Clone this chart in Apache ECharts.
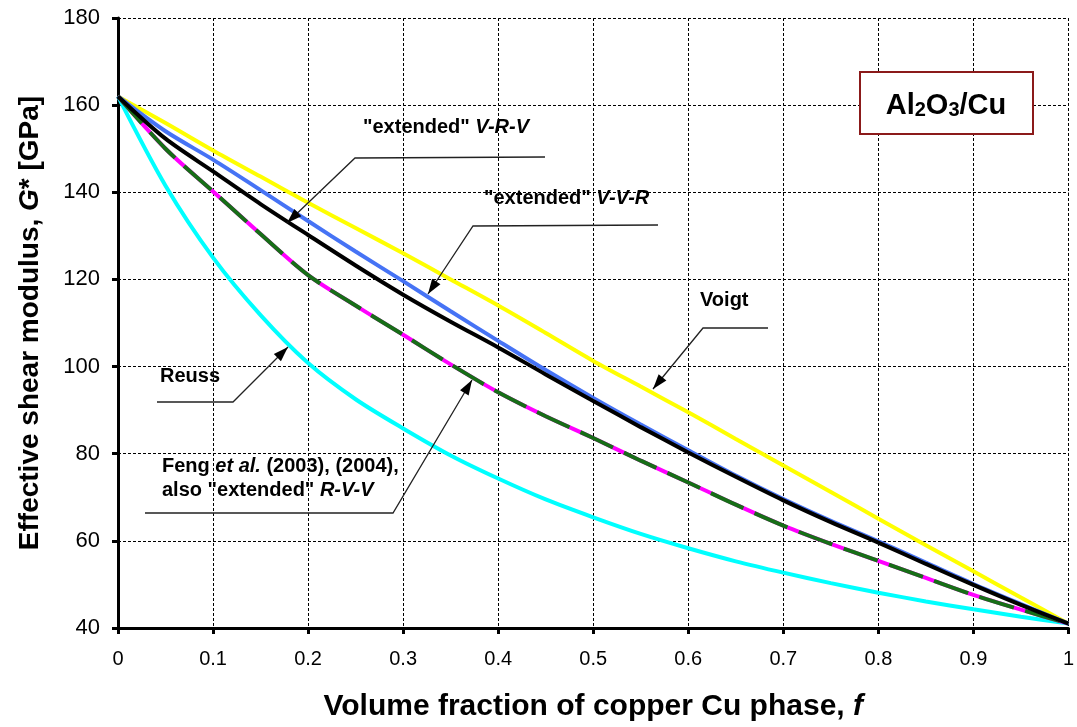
<!DOCTYPE html>
<html><head><meta charset="utf-8">
<script src="https://cdn.jsdelivr.net/npm/echarts@6/dist/echarts.min.js"></script>
<style>html,body{margin:0;padding:0;background:#fff}#c{width:1077px;height:727px}</style>
</head><body><div id="c"></div>
<script>
// Volume fraction of Cu, f
const fVals = [0, 0.05, 0.1, 0.15, 0.2, 0.25, 0.3, 0.35, 0.4, 0.45, 0.5, 0.55, 0.6, 0.65, 0.7, 0.75, 0.8, 0.85, 0.9, 0.95, 1];
// Effective shear modulus G* [GPa]
const voigt   = [162, 155.9, 149.6, 143.6, 137.6, 131.8, 126, 120, 114, 107.7, 101.3, 95.4, 89.5, 83.4, 77.3, 71.2, 65.1, 59, 53, 47, 41];
const extVRV  = [162, 152.3, 144.8, 137.3, 130.2, 123.2, 116.5, 110.3, 104.4, 98.2, 92.1, 86.1, 80.3, 74.7, 69.3, 64.3, 59.6, 54.7, 49.9, 45.3, 41];
const extVVR  = [162, 154, 147.5, 140.5, 133.4, 126.4, 119.6, 112.7, 105.9, 99.2, 92.8, 86.7, 80.8, 75, 69.6, 64.6, 59.9, 55, 50.1, 45.5, 41];
const fengRVV = [162, 150, 140.2, 130.4, 121, 114, 107.3, 100.5, 94.1, 88.6, 83.6, 78.4, 73.4, 68.3, 63.5, 59.3, 55.4, 51.5, 47.6, 44.2, 41];
const reuss   = [162, 141.5, 125, 111.8, 100.8, 92.5, 85.8, 79.6, 74.3, 69.5, 65.4, 61.6, 58.3, 55.3, 52.7, 50.3, 48.1, 46.1, 44.3, 42.6, 41];
const yTicks = [40, 60, 80, 100, 120, 140, 160, 180];
const xTicks = [0, 0.1, 0.2, 0.3, 0.4, 0.5, 0.6, 0.7, 0.8, 0.9, 1];

const pairs = arr => fVals.map((f, i) => [f, arr[i]]);
const FONT = '"Liberation Sans", Arial, sans-serif';

const chart = echarts.init(document.getElementById('c'), null, {renderer: 'canvas'});

function lineSeries(name, data, color, extra) {
  return Object.assign({
    name, type: 'line', data: pairs(data), showSymbol: false, smooth: 0.3,
    lineStyle: {color, width: 4}, animation: false
  }, extra || {});
}

// annotation leaders: polyline points, last point = arrow tip
const leaders = [
  [[545, 157], [355, 158], [287, 223]],
  [[658, 225], [473, 226], [428, 294]],
  [[768, 328], [703, 328], [653, 389]],
  [[157, 402], [233, 402], [288, 347]],
  [[145, 513], [393, 513], [472, 380]]
];
const graphics = [];
leaders.forEach(pts => {
  graphics.push({type: 'polyline', shape: {points: pts}, style: {stroke: '#222', lineWidth: 1.3, fill: null}, z: 50});
  const [x1, y1] = pts[pts.length - 2], [x2, y2] = pts[pts.length - 1];
  const dx = x2 - x1, dy = y2 - y1, L = Math.hypot(dx, dy), ux = dx / L, uy = dy / L;
  const hl = 15, hw = 5;
  const bx = x2 - ux * hl, by = y2 - uy * hl;
  graphics.push({type: 'polygon', shape: {points: [[x2, y2], [bx - uy * hw, by + ux * hw], [bx + uy * hw, by - ux * hw]]}, style: {fill: '#000'}, z: 51});
});
const AF = 20;
const annStyle = {fontFamily: FONT, fontWeight: 'bold', fontSize: AF, fill: '#000'};
const rich = {
  n: {fontFamily: FONT, fontWeight: 'bold', fontSize: AF, color: '#000', lineHeight: 24},
  i: {fontFamily: FONT, fontWeight: 'bold', fontStyle: 'italic', fontSize: AF, color: '#000', lineHeight: 24}
};
graphics.push({type: 'text', left: 363, top: 117, z: 52, style: Object.assign({}, annStyle, {text: '{n|"extended" }{i|V-R-V}', rich})});
graphics.push({type: 'text', left: 484, top: 188, z: 52, style: Object.assign({}, annStyle, {text: '{n|"extended" }{i|V-V-R}', rich})});
graphics.push({type: 'text', left: 700, top: 290, z: 52, style: Object.assign({}, annStyle, {text: 'Voigt'})});
graphics.push({type: 'text', left: 160, top: 366, z: 52, style: Object.assign({}, annStyle, {text: 'Reuss'})});
graphics.push({type: 'text', left: 162, top: 456, z: 52, style: Object.assign({}, annStyle, {text: '{n|Feng }{i|et al.}{n| (2003), (2004),}\n{n|also "extended" }{i|R-V-V}', rich})});
// Material box
graphics.push({type: 'rect', shape: {x: 860, y: 72, width: 173, height: 62}, style: {fill: '#fff', stroke: '#8B1A1A', lineWidth: 2}, z: 40});
graphics.push({type: 'text', x: 946, y: 103, z: 41, style: {
  text: '{m|Al}{s|2}{m|O}{s|3}{m|/Cu}', textAlign: 'center', textVerticalAlign: 'middle',
  rich: {m: {fontFamily: FONT, fontWeight: 'bold', fontSize: 29, color: '#000', verticalAlign: 'bottom'},
         s: {fontFamily: FONT, fontWeight: 'bold', fontSize: 20, color: '#000', padding: [14, 0, 0, 0]}}
}});

chart.setOption({
  animation: false,
  backgroundColor: '#fff',
  grid: {left: 118, right: 6, top: 18, bottom: 96, containLabel: false},
  xAxis: {
    type: 'value', min: 0, max: 1, interval: 0.1,
    name: '{b|Volume fraction of copper Cu phase, }{bi|f}', nameLocation: 'middle', nameGap: 64,
    nameTextStyle: {rich: {
      b: {fontFamily: FONT, fontWeight: 'bold', fontSize: 30, color: '#000'},
      bi: {fontFamily: FONT, fontWeight: 'bold', fontStyle: 'italic', fontSize: 30, color: '#000'}}},
    axisLine: {lineStyle: {color: '#000', width: 3}},
    axisTick: {inside: false, length: 6, lineStyle: {color: '#000', width: 3}},
    axisLabel: {fontFamily: FONT, fontSize: 20, color: '#000', margin: 21,
      formatter: v => { const t = xTicks.find(x => Math.abs(x - v) < 1e-9); return t === undefined ? '' : String(t); }},
    splitLine: {show: true, lineStyle: {color: '#000', width: 1, type: [3, 2]}}
  },
  yAxis: {
    type: 'value', min: 40, max: 180, interval: 20,
    name: '{b|Effective shear modulus, }{bi|G}{b|* [GPa]}', nameLocation: 'middle', nameGap: 74, nameRotate: 90,
    nameTextStyle: {rich: {
      b: {fontFamily: FONT, fontWeight: 'bold', fontSize: 28, color: '#000'},
      bi: {fontFamily: FONT, fontWeight: 'bold', fontStyle: 'italic', fontSize: 28, color: '#000'}}},
    axisLine: {show: true, lineStyle: {color: '#000', width: 3}},
    axisTick: {show: true, inside: false, length: 6, lineStyle: {color: '#000', width: 3}},
    axisLabel: {fontFamily: FONT, fontSize: 22, color: '#000', margin: 18,
      formatter: v => yTicks.includes(v) ? String(v) : ''},
    splitLine: {show: true, lineStyle: {color: '#000', width: 1, type: [3, 2]}}
  },
  series: [
    lineSeries('Voigt', voigt, '#FFFF00'),
    lineSeries('Reuss', reuss, '#00FFFF'),
    lineSeries('Feng (magenta base)', fengRVV, '#FF00FF'),
    lineSeries('Feng et al. / extended R-V-V', fengRVV, '#176E17', {lineStyle: {color: '#176E17', width: 4, type: [36, 12]}}),
    lineSeries('extended V-V-R', extVVR, '#4673F5'),
    lineSeries('extended V-R-V', extVRV, '#000000')
  ],
  graphic: graphics
});
</script></body></html>
